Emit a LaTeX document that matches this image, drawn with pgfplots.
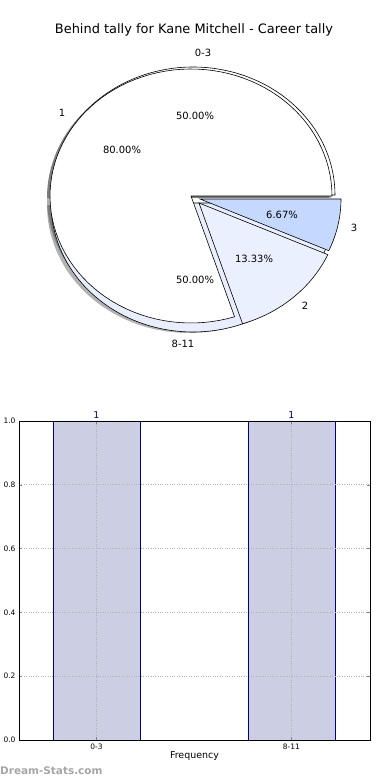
\documentclass[border=0pt]{standalone}
\usepackage{pgfplots}
\pgfplotsset{compat=1.18}
\usepackage{fontspec}
\setmainfont{DejaVu Sans}
\definecolor{wedgeA}{HTML}{E8EEFC}
\definecolor{wedgeTwo}{HTML}{EAF0FD}
\definecolor{wedgeThree}{HTML}{C5D8FD}
\definecolor{barfill}{HTML}{CCCEE4}
\definecolor{baredge}{HTML}{000080}
\begin{document}
\begin{tikzpicture}
\useasboundingbox (0,0) rectangle (390bp,780bp);
% ---------------- pie chart (pixel-like coordinates) ----------------
% outer pie: 0-3 = 1, 8-11 = 1  (50% / 50%)
% inner pie: 1 = 12, 2 = 2, 3 = 1 (80% / 13.33% / 6.67%)
\begin{axis}[at={(0,0)}, anchor=south west, scale only axis,
  width=390bp, height=780bp, xmin=0, xmax=390, ymin=0, ymax=780,
  hide axis, clip=false, samples=90]
  % shadows
  \addplot[draw=none, fill=black, opacity=0.3, domain=0:180]
    ({189+142*cos(x)},{582+128*sin(x)}) -- (axis cs:189,582) -- cycle;
  \addplot[draw=none, fill=black, opacity=0.3, domain=180:360]
    ({189+142*cos(x)},{575+128*sin(x)}) -- (axis cs:189,575) -- cycle;
  \addplot[draw=none, fill=black, opacity=0.3, domain=0:288]
    ({188+141*cos(x)},{582+127*sin(x)}) -- (axis cs:188,582) -- cycle;
  % outer pie
  \addplot[draw=black, line width=0.6pt, fill=white, domain=0:180]
    ({193+142*cos(x)},{585+128*sin(x)}) -- (axis cs:193,585) -- cycle;
  \addplot[draw=black, line width=0.6pt, fill=wedgeA, domain=180:360]
    ({193+142*cos(x)},{577+129*sin(x)}) -- (axis cs:193,577) -- cycle;
  % inner pie
  \addplot[draw=black, line width=0.6pt, fill=white, domain=0:288]
    ({191+141*cos(x)},{584+127*sin(x)}) -- (axis cs:191,584) -- cycle;
  \addplot[draw=black, line width=0.6pt, fill=wedgeTwo, domain=288:336, samples=30]
    ({199+141*cos(x)},{577+127*sin(x)}) -- (axis cs:199,577) -- cycle;
  \addplot[draw=black, line width=0.6pt, fill=wedgeThree, domain=336:360, samples=20]
    ({200+141*cos(x)},{581+127*sin(x)}) -- (axis cs:200,581) -- cycle;
  % labels
  \node[font=\fontsize{13}{15}\selectfont] at (axis cs:194,750) {Behind tally for Kane Mitchell - Career tally};
  \begin{scope}[every node/.style={font=\fontsize{10}{12}\selectfont}]
  \node at (axis cs:203,727) {0-3};
  \node at (axis cs:62,667) {1};
  \node at (axis cs:195,664) {50.00\%};
  \node at (axis cs:122,630) {80.00\%};
  \node at (axis cs:282,565) {6.67\%};
  \node at (axis cs:354,552) {3};
  \node at (axis cs:254,521) {13.33\%};
  \node at (axis cs:305,474) {2};
  \node at (axis cs:195,500) {50.00\%};
  \node at (axis cs:183,436) {8-11};
  \end{scope}
\end{axis}
% ---------------- bar chart ----------------
\begin{axis}[at={(19bp,40bp)}, anchor=south west, scale only axis,
  width=351bp, height=319bp,
  xmin=-0.397, xmax=1.403, ymin=0, ymax=1,
  xtick={0,1}, xticklabels={0-3,8-11},
  ytick={0,0.2,0.4,0.6,0.8,1.0},
  yticklabel style={/pgf/number format/fixed, /pgf/number format/precision=1, /pgf/number format/fixed zerofill},
  /pgf/number format/assume math mode=true,
  tick label style={font=\fontsize{7.5}{9}\selectfont},
  xmajorgrids, ymajorgrids,
  major grid style={gray!60, dotted, line width=0.7pt},
  major tick length=3bp,
  axis on top, clip=false,
  xlabel={Frequency}, xlabel style={font=\fontsize{9.5}{11}\selectfont, yshift=4bp},
  axis line style={line width=0.8pt},
  ]
  \addplot[ybar, bar width=0.446, fill=barfill, draw=baredge, line width=0.8pt,
    nodes near coords, nodes near coords style={color=baredge, text=baredge, font=\fontsize{9.5}{11}\selectfont, yshift=-1bp}]
    coordinates {(0,1) (1,1)};
\end{axis}
\node[anchor=west, text=gray!70, font=\bfseries\fontsize{10.5}{12}\selectfont, inner sep=0pt] at (0bp,9bp) {Dream-Stats.com};
\end{tikzpicture}
\end{document}
